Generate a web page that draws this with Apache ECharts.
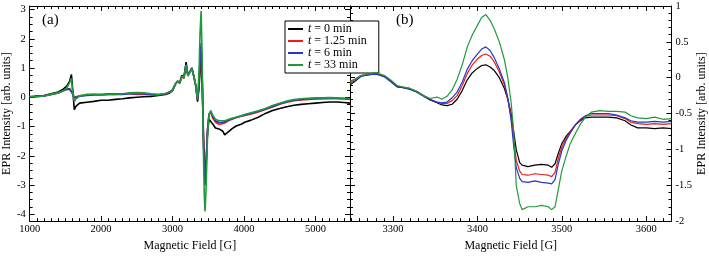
<!DOCTYPE html>
<html><head><meta charset="utf-8">
<script src="https://cdn.jsdelivr.net/npm/echarts@6/dist/echarts.min.js"></script>
<style>html,body{margin:0;padding:0;background:#fff}#c{width:709px;height:257px}</style>
</head><body><div id="c"></div>
<script>
// ---- data ----
const seriesNames = ['t = 0 min', 't = 1.25 min', 't = 6 min', 't = 33 min'];
const seriesColors = ['#000000', '#ee1c1c', '#2536c8', '#1f9a3a'];

// tick labels
const xTicksA = [1000, 2000, 3000, 4000, 5000];
const yTicksA = [-4, -3, -2, -1, 0, 1, 2, 3];
const xTicksB = [3300, 3400, 3500, 3600];
const yTicksB = [-2, -1.5, -1, -0.5, 0, 0.5, 1];

// panel (a): magnetic field [G]
const fieldA = [1000,1100,1200,1300,1400,1470,1520,1560,1585,1605,
  1625,1650,1700,1800,1900,2000,2100,2200,2300,2400,
  2500,2600,2700,2800,2900,2960,3000,3040,3070,3100,
  3130,3160,3190,3215,3240,3270,3300,3325,3350,3370,
  3385,3400,3415,3430,3445,3455,3470,3490,3510,3535,
  3560,3600,3650,3700,3730,3780,3830,3890,3960,4010,
  4100,4200,4300,4400,4500,4600,4700,4800,4900,5000,
  5100,5200,5300,5400,5484];
const a_t0 = [0.02,0.04,0.06,0.12,0.18,0.28,0.38,0.55,0.78,0.2,
  -0.42,-0.3,-0.2,-0.17,-0.14,-0.1,-0.1,-0.07,-0.05,-0.02,
  0.0,0.02,0.03,0.06,0.1,0.15,0.23,0.45,0.55,0.5,
  0.75,0.7,1.2,0.75,0.8,1.0,0.7,0.4,-0.15,0.3,
  0.9,1.3,0.5,-1.0,-2.2,-2.6,-2.2,-1.2,-0.75,-0.7,
  -0.9,-1.05,-1.08,-1.15,-1.28,-1.18,-1.08,-0.98,-0.92,-0.85,
  -0.78,-0.68,-0.55,-0.45,-0.38,-0.32,-0.27,-0.24,-0.22,-0.2,
  -0.18,-0.16,-0.16,-0.18,-0.2];
const a_t125 = [0.02,0.03,0.05,0.1,0.15,0.22,0.28,0.3,0.25,0.12,
  0.0,0.0,0.05,0.08,0.1,0.1,0.12,0.12,0.12,0.12,
  0.1,0.1,0.08,0.08,0.12,0.18,0.25,0.45,0.55,0.48,
  0.7,0.65,1.1,0.75,0.78,1.0,0.7,0.4,-0.1,0.4,
  1.2,1.7,0.7,-1.2,-2.4,-2.85,-2.3,-1.1,-0.6,-0.5,
  -0.7,-0.85,-0.92,-0.9,-0.88,-0.8,-0.75,-0.7,-0.65,-0.62,
  -0.57,-0.5,-0.42,-0.33,-0.24,-0.17,-0.12,-0.09,-0.07,-0.06,
  -0.05,-0.05,-0.05,-0.06,-0.07];
const a_t6 = [0.02,0.03,0.05,0.1,0.15,0.22,0.27,0.28,0.22,0.1,
  -0.02,0.0,0.04,0.06,0.08,0.08,0.1,0.1,0.1,0.12,
  0.12,0.12,0.1,0.08,0.12,0.18,0.25,0.45,0.55,0.48,
  0.72,0.66,1.12,0.75,0.78,1.0,0.7,0.4,-0.08,0.45,
  1.3,1.85,0.75,-1.3,-2.6,-3.0,-2.4,-1.1,-0.58,-0.48,
  -0.65,-0.8,-0.86,-0.85,-0.84,-0.78,-0.74,-0.69,-0.64,-0.6,
  -0.55,-0.48,-0.4,-0.31,-0.22,-0.15,-0.1,-0.07,-0.05,-0.04,
  -0.04,-0.03,-0.03,-0.04,-0.05];
const a_t33 = [0.03,0.02,0.05,0.1,0.16,0.22,0.32,0.5,0.65,0.15,
  -0.15,-0.05,0.05,0.1,0.1,0.08,0.1,0.1,0.12,0.15,
  0.16,0.15,0.12,0.1,0.13,0.18,0.25,0.45,0.55,0.48,
  0.72,0.66,1.1,0.72,0.76,0.98,0.7,0.4,-0.05,0.8,
  2.2,2.95,1.3,-1.6,-3.4,-3.9,-3.1,-1.3,-0.6,-0.45,
  -0.6,-0.75,-0.8,-0.8,-0.8,-0.76,-0.72,-0.68,-0.63,-0.59,
  -0.53,-0.46,-0.38,-0.28,-0.2,-0.13,-0.08,-0.05,-0.03,-0.02,
  -0.02,-0.01,-0.02,-0.03,-0.04];

// panel (b): magnetic field [G]
const fieldB = [3249,3255,3262,3270,3280,3290,3298,3305,3312,3320,
  3328,3336,3344,3352,3358,3364,3370,3376,3382,3388,
  3394,3400,3405,3410,3415,3420,3426,3432,3436,3440,
  3443,3446,3450,3453,3460,3468,3476,3484,3488,3492,
  3496,3500,3505,3510,3516,3522,3528,3535,3545,3555,
  3565,3575,3582,3590,3600,3610,3620,3630];
const b_t0 = [-0.1,-0.05,0.02,0.04,0.06,0.02,-0.06,-0.13,-0.14,-0.16,
  -0.2,-0.25,-0.31,-0.35,-0.38,-0.39,-0.37,-0.3,-0.18,-0.03,
  0.07,0.13,0.17,0.18,0.15,0.1,0.0,-0.15,-0.3,-0.5,
  -0.75,-1.0,-1.18,-1.22,-1.24,-1.22,-1.21,-1.22,-1.25,-1.2,
  -1.05,-0.92,-0.82,-0.75,-0.66,-0.6,-0.56,-0.55,-0.55,-0.55,
  -0.56,-0.6,-0.66,-0.7,-0.7,-0.71,-0.7,-0.71];
const b_t125 = [-0.05,-0.02,0.03,0.05,0.06,0.02,-0.05,-0.12,-0.13,-0.15,
  -0.19,-0.25,-0.3,-0.34,-0.36,-0.36,-0.32,-0.25,-0.11,0.06,
  0.18,0.26,0.31,0.33,0.3,0.22,0.08,-0.1,-0.3,-0.55,
  -0.85,-1.15,-1.3,-1.35,-1.36,-1.34,-1.35,-1.36,-1.38,-1.32,
  -1.12,-0.97,-0.85,-0.76,-0.66,-0.59,-0.54,-0.52,-0.52,-0.52,
  -0.53,-0.57,-0.62,-0.64,-0.65,-0.64,-0.65,-0.64];
const b_t6 = [-0.08,-0.04,0.02,0.04,0.05,0.01,-0.06,-0.12,-0.14,-0.16,
  -0.2,-0.26,-0.31,-0.34,-0.35,-0.34,-0.28,-0.2,-0.06,0.12,
  0.24,0.33,0.4,0.43,0.38,0.28,0.12,-0.07,-0.28,-0.6,
  -0.95,-1.25,-1.4,-1.45,-1.46,-1.44,-1.46,-1.47,-1.48,-1.42,
  -1.2,-1.02,-0.88,-0.77,-0.66,-0.58,-0.53,-0.5,-0.5,-0.5,
  -0.52,-0.56,-0.6,-0.62,-0.62,-0.61,-0.62,-0.61];
const b_t33 = [-0.07,-0.03,0.03,0.05,0.07,0.03,-0.04,-0.11,-0.13,-0.15,
  -0.19,-0.25,-0.29,-0.27,-0.3,-0.26,-0.17,-0.02,0.18,0.43,
  0.6,0.73,0.84,0.88,0.8,0.68,0.5,0.25,0.0,-0.35,
  -0.75,-1.5,-1.75,-1.84,-1.8,-1.8,-1.78,-1.8,-1.84,-1.8,
  -1.55,-1.3,-1.1,-0.92,-0.78,-0.65,-0.55,-0.48,-0.46,-0.47,
  -0.47,-0.48,-0.53,-0.56,-0.57,-0.55,-0.58,-0.57];

// ---- chart ----
const FONT = '"Liberation Serif", "DejaVu Serif", serif';
const rangeA = {xmin: 1000, xmax: 5484, ymin: -4.23, ymax: 3.12};
const rangeB = {xmin: 3249, xmax: 3630, ymin: -2, ymax: 1};

function minorVals(lo, hi, step, majors) {
  const out = [];
  const start = Math.ceil(lo / step - 1e-9);
  const end = Math.floor(hi / step + 1e-9);
  for (let i = start; i <= end; i++) {
    const v = +(i * step).toFixed(4);
    if (!majors.some(m => Math.abs(m - v) < 1e-6)) out.push(v);
  }
  return out;
}
function mkAxis(dim, g, pos, min, max, vals, len, showLine, showLabels, name, nameGap) {
  const a = {
    type: 'value', gridIndex: g, position: pos, min: min, max: max,
    axisLine: {show: showLine, onZero: false, lineStyle: {color: '#000', width: 1}},
    axisTick: {show: true, inside: true, length: len, customValues: vals, lineStyle: {color: '#000', width: 1}},
    axisLabel: {show: showLabels, customValues: vals, color: '#000', fontFamily: FONT, fontSize: 10.5,
      margin: dim === 'x' ? 3 : 4, formatter: v => String(v)},
    splitLine: {show: false}, minorTick: {show: false}
  };
  if (name) {
    a.name = name; a.nameLocation = 'middle'; a.nameGap = nameGap;
    a.nameTextStyle = {color: '#000', fontFamily: FONT, fontSize: 12};
    if (dim === 'y') a.nameRotate = 90;
  }
  return a;
}
const mxA = minorVals(rangeA.xmin, rangeA.xmax, 100, xTicksA);
const myA = minorVals(rangeA.ymin, rangeA.ymax, 0.25, yTicksA);
const mxB = minorVals(rangeB.xmin, rangeB.xmax, 10, xTicksB);
const myB = minorVals(rangeB.ymin, rangeB.ymax, 0.1, yTicksB);
const XN = 'Magnetic Field [G]', YN = 'EPR Intensity [arb. units]';

const xAxis = [
  mkAxis('x', 0, 'bottom', rangeA.xmin, rangeA.xmax, xTicksA, 5, true, true, XN, 12),
  mkAxis('x', 0, 'bottom', rangeA.xmin, rangeA.xmax, mxA, 3, false, false),
  mkAxis('x', 0, 'top', rangeA.xmin, rangeA.xmax, xTicksA, 5, true, false),
  mkAxis('x', 0, 'top', rangeA.xmin, rangeA.xmax, mxA, 3, false, false),
  mkAxis('x', 1, 'bottom', rangeB.xmin, rangeB.xmax, xTicksB, 5, true, true, XN, 12),
  mkAxis('x', 1, 'bottom', rangeB.xmin, rangeB.xmax, mxB, 3, false, false),
  mkAxis('x', 1, 'top', rangeB.xmin, rangeB.xmax, xTicksB, 5, true, false),
  mkAxis('x', 1, 'top', rangeB.xmin, rangeB.xmax, mxB, 3, false, false)
];
const yAxis = [
  mkAxis('y', 0, 'left', rangeA.ymin, rangeA.ymax, yTicksA, 5, true, true, YN, 13),
  mkAxis('y', 0, 'left', rangeA.ymin, rangeA.ymax, myA, 3, false, false),
  mkAxis('y', 0, 'right', rangeA.ymin, rangeA.ymax, yTicksA, 5, true, false),
  mkAxis('y', 0, 'right', rangeA.ymin, rangeA.ymax, myA, 3, false, false),
  mkAxis('y', 1, 'right', rangeB.ymin, rangeB.ymax, yTicksB, 5, true, true, YN, 20),
  mkAxis('y', 1, 'right', rangeB.ymin, rangeB.ymax, myB, 3, false, false),
  mkAxis('y', 1, 'left', rangeB.ymin, rangeB.ymax, yTicksB, 5, true, false),
  mkAxis('y', 1, 'left', rangeB.ymin, rangeB.ymax, myB, 3, false, false)
];

const valsA = [a_t0, a_t125, a_t6, a_t33];
const valsB = [b_t0, b_t125, b_t6, b_t33];
const series = [];
valsA.forEach((v, i) => series.push({
  type: 'line', name: seriesNames[i], xAxisIndex: 0, yAxisIndex: 0,
  data: fieldA.map((x, k) => [x, v[k]]), showSymbol: false, symbol: 'none',
  lineStyle: {color: seriesColors[i], width: 1.6}, itemStyle: {color: seriesColors[i]}, z: 2 + i
}));
valsB.forEach((v, i) => series.push({
  type: 'line', name: seriesNames[i], xAxisIndex: 4, yAxisIndex: 4,
  data: fieldB.map((x, k) => [x, v[k]]), showSymbol: false, symbol: 'none',
  lineStyle: {color: seriesColors[i], width: 1.2}, itemStyle: {color: seriesColors[i]}, z: 2 + i
}));

const chart = echarts.init(document.getElementById('c'), null, {renderer: 'canvas'});
chart.setOption({
  animation: false,
  backgroundColor: '#fff',
  grid: [
    {left: 26, top: 6, width: 324, height: 226, containLabel: false},
    {left: 350, top: 6, width: 324, height: 226, containLabel: false}
  ],
  xAxis: xAxis,
  yAxis: yAxis,
  legend: {
    data: seriesNames, orient: 'vertical', left: 285, top: 21,
    selectedMode: false, icon: 'rect', itemWidth: 15, itemHeight: 2, itemGap: 0,
    borderColor: '#000', borderWidth: 1, borderRadius: 0, padding: [2, 12, 2, 3],
    backgroundColor: '#fff',
    formatter: n => '{i|t}' + n.slice(1),
    textStyle: {color: '#000', fontFamily: FONT, fontSize: 12, lineHeight: 12,
      rich: {i: {fontStyle: 'italic', fontFamily: FONT, fontSize: 12, color: '#000'}}}
  },
  graphic: [
    {type: 'text', left: 42, top: 13, style: {text: '(a)', font: '15px ' + FONT, fill: '#000'}},
    {type: 'text', left: 396, top: 13, style: {text: '(b)', font: '15px ' + FONT, fill: '#000'}}
  ],
  series: series
});
</script></body></html>
